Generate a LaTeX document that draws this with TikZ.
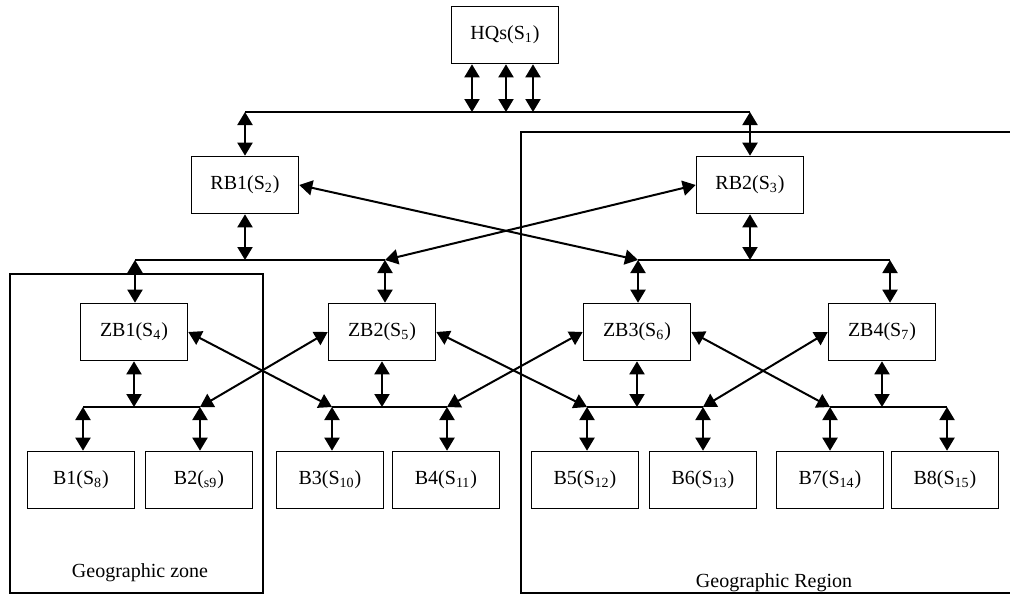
\documentclass[tikz,border=0pt]{standalone}
\usepackage{fontspec}
\setmainfont{Liberation Serif}
\usetikzlibrary{arrows.meta}

\tikzstyle{site}=[draw,line width=0.8pt,minimum width=53.5pt,minimum height=28.5pt,inner sep=0pt]
\tikzstyle{link}=[line width=1pt,{Triangle[length=6.5pt,width=7.5pt]}-{Triangle[length=6.5pt,width=7.5pt]}]
\tikzstyle{bus}=[line width=0.9pt]
\tikzstyle{area}=[line width=0.8pt]

\begin{document}
\begin{tikzpicture}[x=0.5pt,y=-0.5pt,font=\fontsize{10}{12}\selectfont]
    \useasboundingbox (0,0) rectangle (1010,595);
    %Geographic areas
    \draw[area] (10,274) rectangle (263,593);
    \draw[area] (1014,132) -- (521,132) -- (521,593) -- (1014,593);
    \node (zone) at (140,573) {Geographic zone};
    \node (region) at (774,583) {Geographic Region};
    %Headquarters and regional branches
    \node[site] (HQ) at (505,35) {HQs(S\textsubscript{1})};
    \node[site] (RB1) at (245,185) {RB1(S\textsubscript{2})};
    \node[site] (RB2) at (750,185) {RB2(S\textsubscript{3})};
    %Zonal branches
    \foreach \pos/\name/\txt in {{(134,332)/ZB1/ZB1(S\textsubscript{4})},
                                 {(382,332)/ZB2/ZB2(S\textsubscript{5})},
                                 {(637,332)/ZB3/ZB3(S\textsubscript{6})},
                                 {(882,332)/ZB4/ZB4(S\textsubscript{7})}}
    \node[site] (\name) at \pos {\txt};
    %Branches
    \foreach \pos/\name/\txt in {{(81,480)/B1/B1(S\textsubscript{8})},
                                 {(199,480)/B2/B2(\textsubscript{s9})},
                                 {(330,480)/B3/B3(S\textsubscript{10})},
                                 {(446,480)/B4/B4(S\textsubscript{11})},
                                 {(585,480)/B5/B5(S\textsubscript{12})},
                                 {(703,480)/B6/B6(S\textsubscript{13})},
                                 {(830,480)/B7/B7(S\textsubscript{14})},
                                 {(945,480)/B8/B8(S\textsubscript{15})}}
    \node[site] (\name) at \pos {\txt};

    %Top bus
    \coordinate (t1) at (245,112);
    \coordinate (t2) at (750,112);
    \draw[bus] (t1) -- (t2);
    \foreach \x [count=\i] in {472,506,533} {
        \coordinate (h\i) at (\x,112);
        \draw[link] (h\i |- HQ.south) -- (h\i);
    }
    \draw[link] (t1) -- (RB1);
    \draw[link] (t2) -- (RB2);

    %Regional buses
    \foreach \name/\a/\m/\b in {RB1/135/245/385, RB2/638/750/890} {
        \coordinate (\name a) at (\a,260);
        \coordinate (\name m) at (\m,260);
        \coordinate (\name b) at (\b,260);
        \draw[bus] (\name a) -- (\name b);
        \draw[link] (\name) -- (\name m);
    }
    \draw[link] (RB1a) -- (RB1a |- ZB1.north);
    \draw[link] (RB1b) -- (RB1b |- ZB2.north);
    \draw[link] (RB2a) -- (RB2a |- ZB3.north);
    \draw[link] (RB2b) -- (RB2b |- ZB4.north);
    \draw[link] (RB1.east) -- (RB2a);
    \draw[link] (RB2.west) -- (RB1b);

    %Zonal buses
    \foreach \name/\a/\m/\b in {ZB1/83/134/200, ZB2/332/382/447,
                                ZB3/587/637/703, ZB4/830/882/947} {
        \coordinate (\name a) at (\a,407);
        \coordinate (\name m) at (\m,407);
        \coordinate (\name b) at (\b,407);
        \draw[bus] (\name a) -- (\name b);
        \draw[link] (\name) -- (\name m);
    }
    \foreach \bus/\left/\right in {ZB1/B1/B2, ZB2/B3/B4, ZB3/B5/B6, ZB4/B7/B8} {
        \draw[link] (\bus a) -- (\bus a |- \left.north);
        \draw[link] (\bus b) -- (\bus b |- \right.north);
    }
    \draw[link] (ZB1.east) -- (ZB2a);
    \draw[link] (ZB2.west) -- (ZB1b);
    \draw[link] (ZB2.east) -- (ZB3a);
    \draw[link] (ZB3.west) -- (ZB2b);
    \draw[link] (ZB3.east) -- (ZB4a);
    \draw[link] (ZB4.west) -- (ZB3b);
\end{tikzpicture}
\end{document}
